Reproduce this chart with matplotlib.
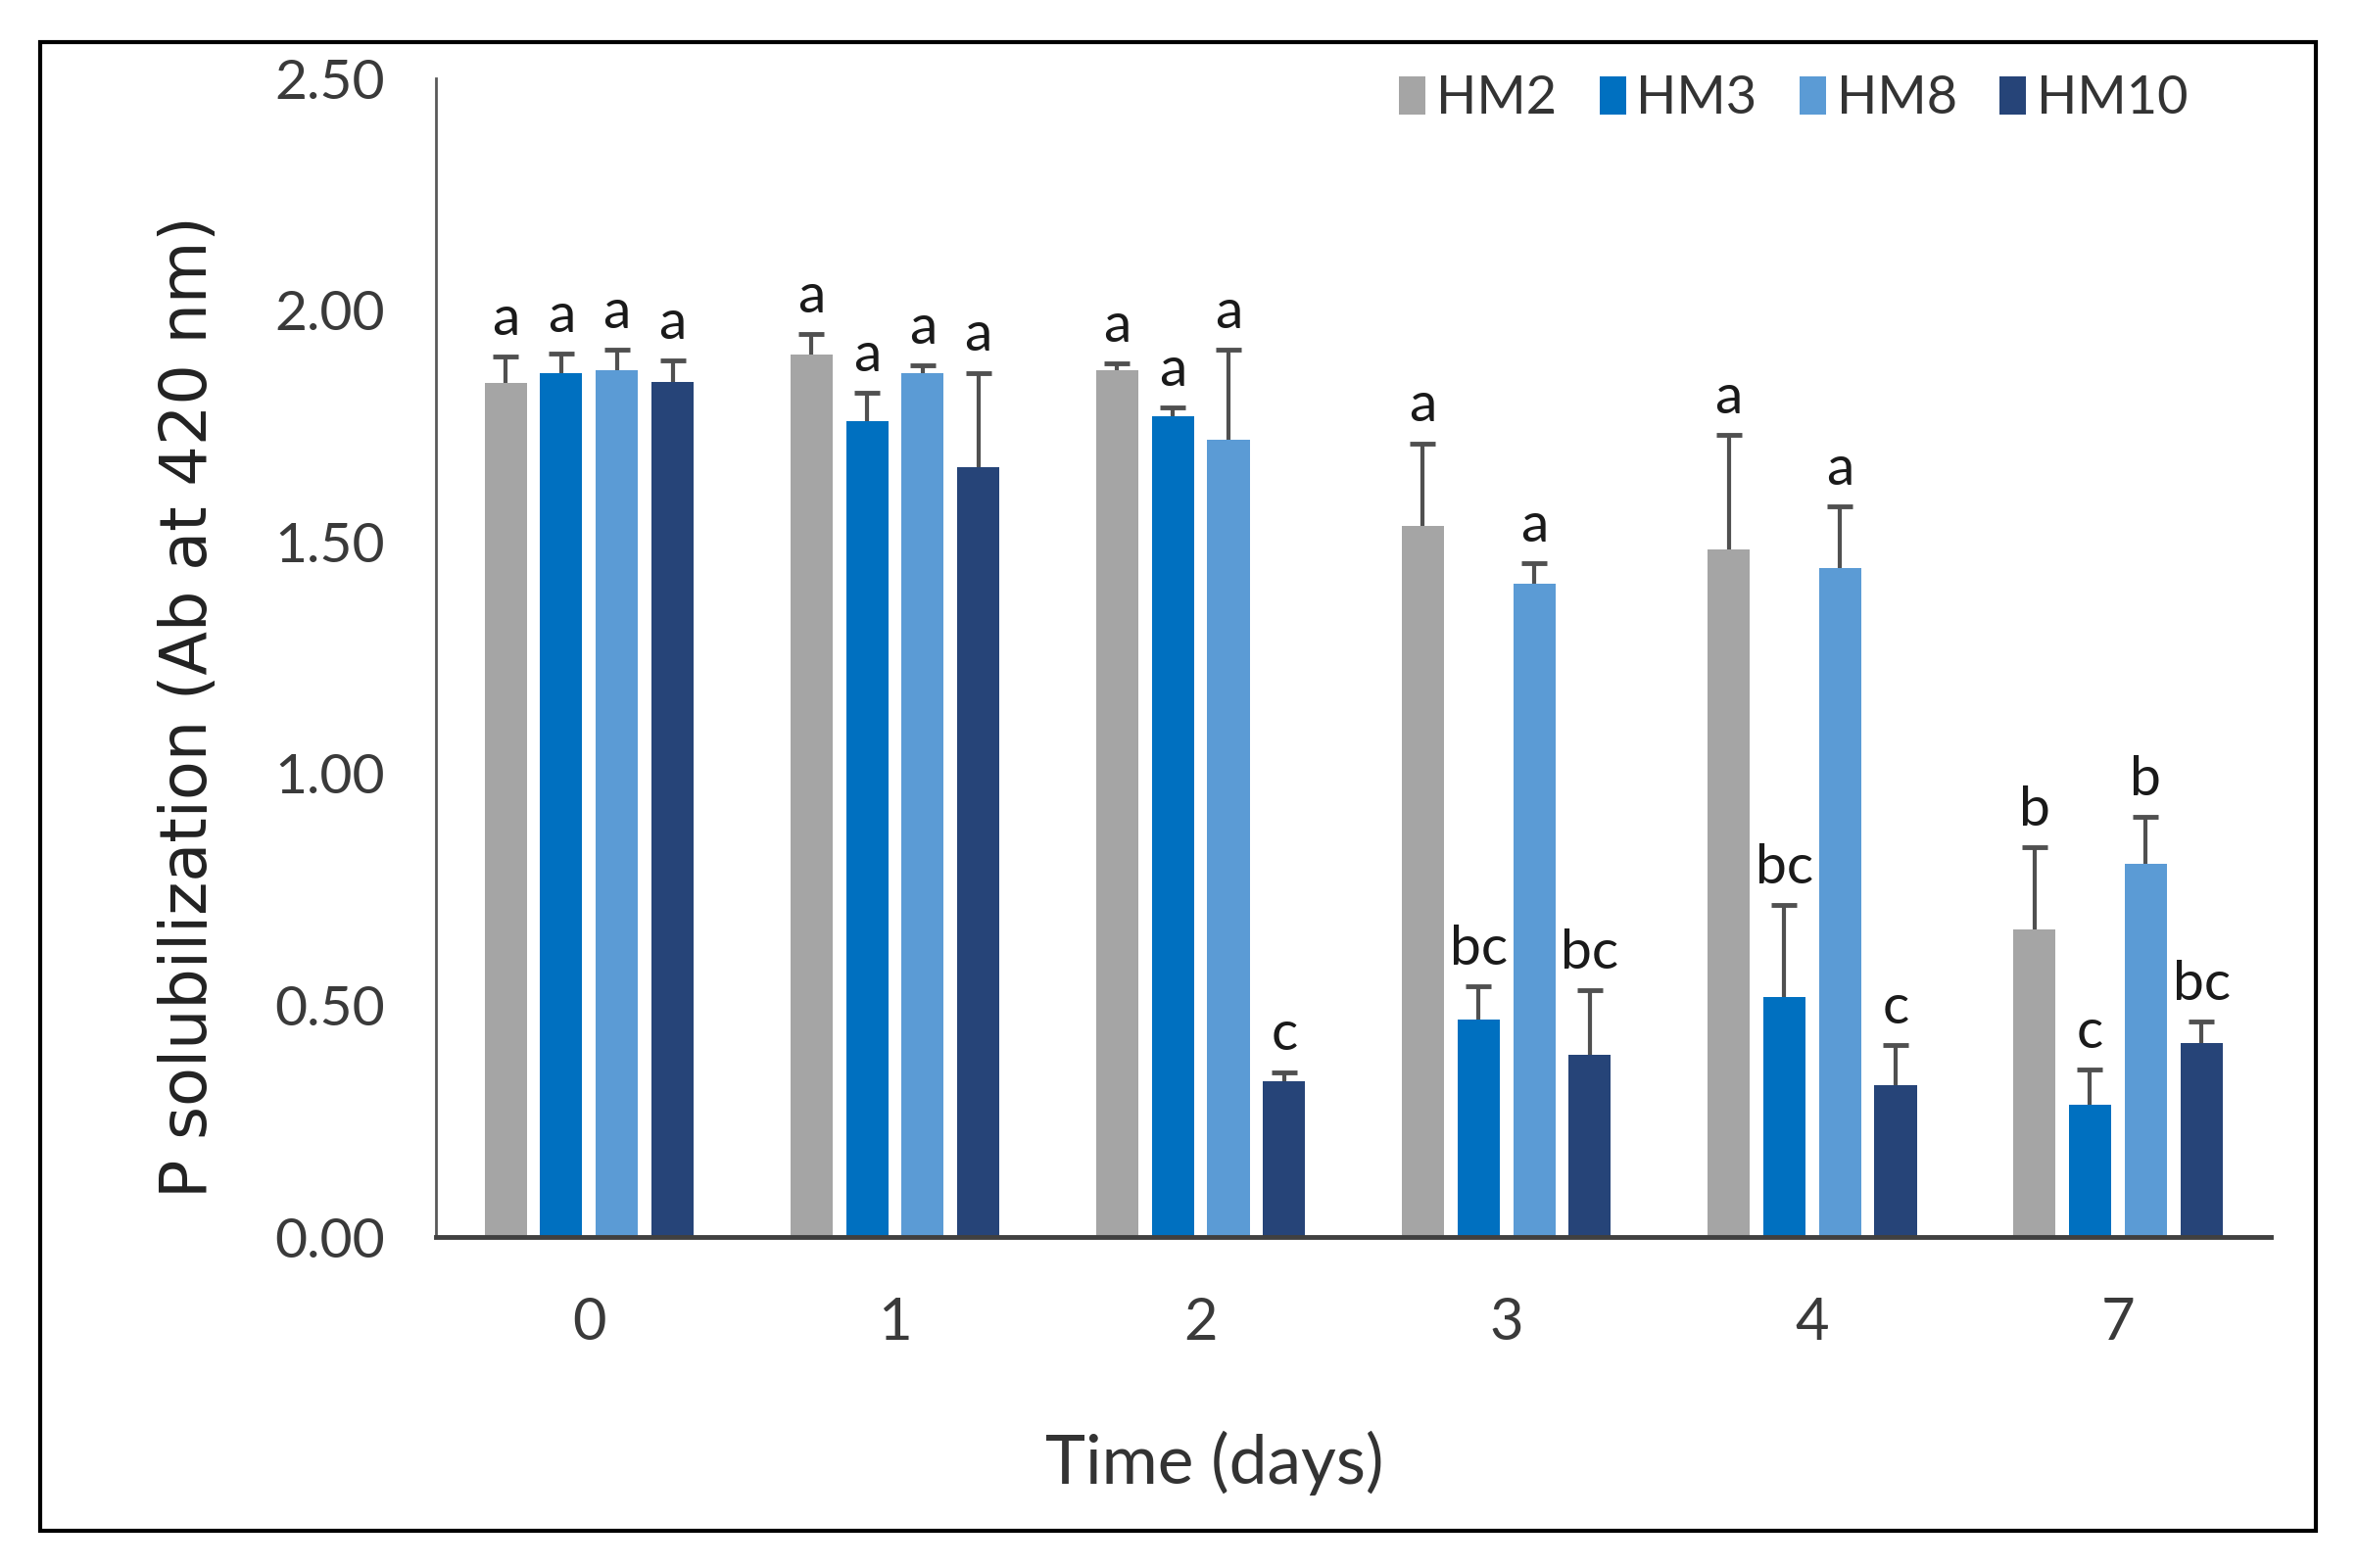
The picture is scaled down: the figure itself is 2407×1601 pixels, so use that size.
import numpy as np
import matplotlib.pyplot as plt
from matplotlib.patches import Rectangle

days = ["0", "1", "2", "3", "4", "7"]
strains = ["HM2", "HM3", "HM8", "HM10"]
colors = ["#A5A5A5", "#0070C0", "#5B9BD5", "#264478"]

hm2 = [1.844, 1.905, 1.870, 1.535, 1.483, 0.663]
hm3 = [1.864, 1.761, 1.772, 0.469, 0.519, 0.286]
hm8 = [1.870, 1.864, 1.721, 1.409, 1.443, 0.806]
hm10 = [1.845, 1.661, 0.336, 0.394, 0.327, 0.419]

hm2_err = [0.055, 0.044, 0.015, 0.178, 0.247, 0.178]
hm3_err = [0.042, 0.060, 0.018, 0.072, 0.198, 0.076]
hm8_err = [0.045, 0.017, 0.194, 0.045, 0.134, 0.101]
hm10_err = [0.047, 0.204, 0.020, 0.138, 0.087, 0.046]

hm2_sig = ["a", "a", "a", "a", "a", "b"]
hm3_sig = ["a", "a", "a", "bc", "bc", "c"]
hm8_sig = ["a", "a", "a", "a", "a", "b"]
hm10_sig = ["a", "a", "c", "bc", "c", "bc"]

values = [hm2, hm3, hm8, hm10]
errors = [hm2_err, hm3_err, hm8_err, hm10_err]
letters = [hm2_sig, hm3_sig, hm8_sig, hm10_sig]

NARROW = ["Lato", "DejaVu Sans"]

fig = plt.figure(figsize=(24.07, 16.01), dpi=100)
ax = fig.add_axes([0.185, 0.211, 0.778, 0.739])

x = np.arange(len(days))
pitch = 0.182
width = 0.138
for i, (name, vals, errs, sig, col) in enumerate(zip(strains, values, errors, letters, colors)):
    pos = x + (i - 1.5) * pitch
    vals = np.array(vals)
    errs = np.array(errs)
    ax.bar(pos, vals, width=width, color=col, label=name, zorder=2)
    # upper error only: stem plus a single cap
    ax.vlines(pos, vals, vals + errs, color="#505050", linewidth=3, zorder=3)
    ax.plot(pos, vals + errs, ls="none", marker="_", markersize=19,
            markeredgewidth=3.5, color="#505050", zorder=3)
    for p, v, e, s in zip(pos, vals, errs, sig):
        ax.annotate(s, (p, v + e), xytext=(0, 16), textcoords="offset points",
                    ha="center", va="baseline", fontsize=41, family=NARROW,
                    color="#1a1a1a")

ax.set_xlim(-0.5, len(days) - 0.5)
ax.set_ylim(0, 2.5)
ax.set_yticks(np.arange(0, 2.51, 0.5))
ax.set_yticklabels([f"{t:.2f}" for t in np.arange(0, 2.51, 0.5)], family=NARROW, fontsize=41, color="#3a3a3a")
ax.set_xticks(x)
ax.set_xticklabels(days, family=NARROW, fontsize=43, color="#3a3a3a")
ax.tick_params(axis="both", length=0)
ax.tick_params(axis="y", pad=38)
ax.tick_params(axis="x", pad=44)

for side in ["top", "right"]:
    ax.spines[side].set_visible(False)
ax.spines["left"].set_color("#595959")
ax.spines["left"].set_linewidth(2)
ax.spines["bottom"].set_color("#404040")
ax.spines["bottom"].set_linewidth(3.5)

fig.text(0.080, 0.549, "P solubilization (Ab at 420 nm)", rotation=90,
         ha="center", va="center", fontsize=47, family="DejaVu Sans", color="#222222")
fig.text(0.515, 0.067, "Time (days)", ha="center", va="center",
         fontsize=50, family=NARROW, color="#333333")

leg = fig.legend(loc="center right", bbox_to_anchor=(0.937, 0.937), ncol=4, frameon=False,
                 prop={"family": NARROW, "size": 39}, handlelength=0.5, handleheight=0.75,
                 handletextpad=0.2, columnspacing=0.8, borderaxespad=0)
for t in leg.get_texts():
    t.set_color("#333333")

fig.patches.append(Rectangle((0.017, 0.024), 0.965, 0.949, transform=fig.transFigure,
                             fill=False, edgecolor="black", linewidth=3))

fig.savefig("out.png", dpi=100)
